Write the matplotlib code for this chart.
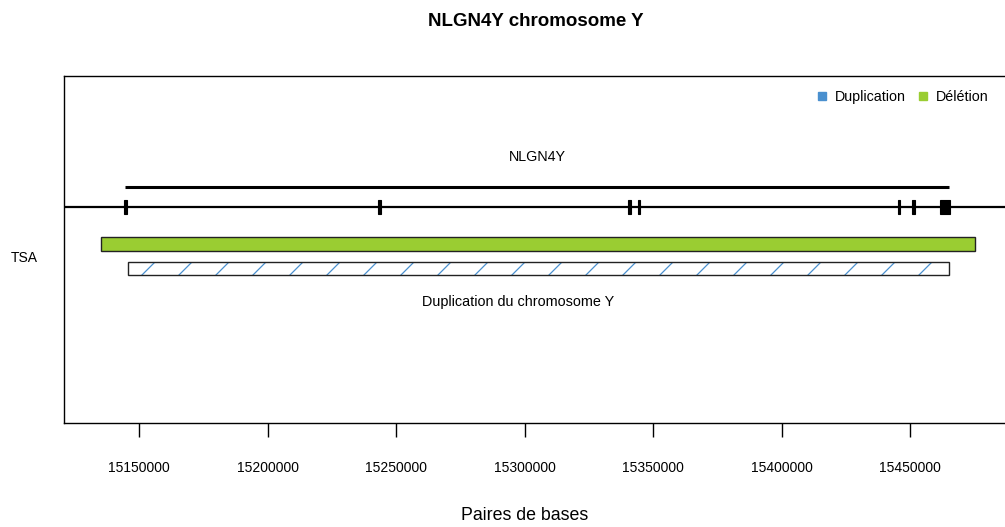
import numpy as np
import matplotlib
matplotlib.use("Agg")
import matplotlib.pyplot as plt
from matplotlib.patches import Rectangle
from matplotlib.lines import Line2D

plt.rcParams['font.family'] = ['Liberation Sans', 'DejaVu Sans']

# ---- data ----
title = "NLGN4Y chromosome Y"
gene_name = "NLGN4Y"
gene_start, gene_end = 15144600, 15465200
exon_starts = [15144300, 15243000, 15340300, 15344000, 15445300, 15450900, 15461700]
exon_ends   = [15145300, 15244000, 15341300, 15345000, 15446200, 15451900, 15465500]
del_start, del_end = 15135200, 15475300
dup_start, dup_end = 15145700, 15465200
dup_label = "Duplication du chromosome Y"
sample_label = "TSA"
xticks = [15150000, 15200000, 15250000, 15300000, 15350000, 15400000, 15450000]
xtick_labels = [str(t) for t in xticks]
legend_labels = ["Duplication", "Délétion"]
legend_colors = ["#4A90CF", "#9ACD32"]
xlabel = "Paires de bases"

# ---- layout ----
W, H = 1005, 527
fig = plt.figure(figsize=(W / 100, H / 100), dpi=100)
left_px, right_px, top_px, bot_px = 64, 1030, 76, 423
ax = fig.add_axes([left_px / W, 1 - bot_px / H, (right_px - left_px) / W, (bot_px - top_px) / H])
ax.set_xlim(15120800, 15120800 + (right_px - left_px) / 0.002570)
ax.set_ylim(bot_px, top_px)

y_gene_label, y_gene_bar, y_line = 157, 187, 207
y_del, h_del = 244, 14
y_dup, h_dup = 268.5, 13
y_dup_label, y_sample = 302, 257

# gene
ax.text((gene_start + gene_end) / 2, y_gene_label, gene_name, ha='center', va='center', fontsize=10.3)
ax.plot([gene_start, gene_end], [y_gene_bar, y_gene_bar], color='black', lw=2.2, solid_capstyle='butt')
ax.axhline(y_line, color='black', lw=1.6)
for s, e in zip(exon_starts, exon_ends):
    ax.add_patch(Rectangle((s, y_line - 7), e - s, 14, facecolor='black', edgecolor='black', lw=0.8))

# deletion bar
ax.add_patch(Rectangle((del_start, y_del - h_del / 2), del_end - del_start, h_del,
                       facecolor=legend_colors[1], edgecolor='#222222', lw=1.0))

# duplication bar with sparse hatching
ax.add_patch(Rectangle((dup_start, y_dup - h_dup / 2), dup_end - dup_start, h_dup,
                       facecolor='white', edgecolor='none', zorder=2))
bp_per_px = 1 / 0.002570
spacing = 37 * bp_per_px
rise = h_dup * bp_per_px
starts = np.arange(dup_start + 14 * bp_per_px - spacing, dup_end + spacing, spacing)
for x0 in starts:
    ln, = ax.plot([x0, x0 + rise], [y_dup + h_dup / 2, y_dup - h_dup / 2],
                  color=legend_colors[0], lw=0.9, zorder=3)
    clip = Rectangle((dup_start, y_dup - h_dup / 2), dup_end - dup_start, h_dup, transform=ax.transData)
    ln.set_clip_path(clip)
ax.add_patch(Rectangle((dup_start, y_dup - h_dup / 2), dup_end - dup_start, h_dup,
                       facecolor='none', edgecolor='#222222', lw=1.0, zorder=4))
ax.text((dup_start + dup_end) / 2 - 8000, y_dup_label, dup_label, ha='center', va='center', fontsize=10.4)

# axes styling
for sp in ['left', 'top', 'right', 'bottom']:
    ax.spines[sp].set_linewidth(1.0)
    ax.spines[sp].set_color('black')
ax.set_xticks(xticks)
ax.set_xticklabels(xtick_labels, fontsize=10)
ax.tick_params(axis='x', direction='out', length=10, width=1, pad=17)
ax.set_yticks([y_sample])
ax.set_yticklabels([sample_label], fontsize=10)
ax.tick_params(axis='y', length=0, pad=19)

fig.text(536 / W, 1 - 22 / H, title, ha='center', va='center', fontsize=13.5, fontweight='bold')
fig.text(525 / W, 1 - 515 / H, xlabel, ha='center', va='center', fontsize=12.8)

handles = [Line2D([], [], marker='s', linestyle='none', markersize=5.5,
                  markerfacecolor=c, markeredgecolor=c) for c in legend_colors]
fig.legend(handles, legend_labels, loc='upper right', bbox_to_anchor=(994 / W, 1 - 84 / H),
           bbox_transform=fig.transFigure, ncol=2, frameon=False, fontsize=10.3,
           handlelength=0.8, handletextpad=0.5, columnspacing=0.8, borderaxespad=0)

fig.savefig("out.png", dpi=100)
